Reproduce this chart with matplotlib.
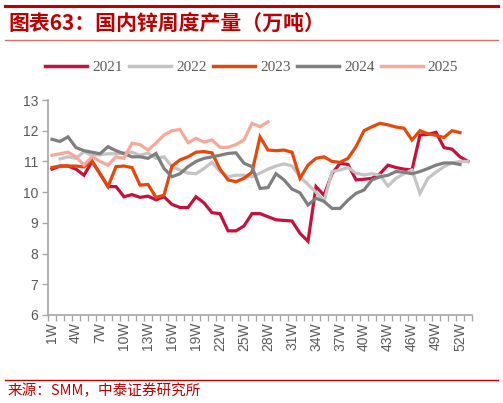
import numpy as np
import matplotlib.pyplot as plt
from matplotlib.lines import Line2D

plt.rcParams['font.family'] = ['Liberation Sans', 'Noto Sans CJK SC', 'DejaVu Sans']

weeks = [f"{i}W" for i in range(1, 54)]
nan = np.nan

# 国内锌周度产量（万吨），按周读取
y2021 = [10.75, 10.85, 10.85, 10.75, 10.55, 11.0, 10.6, 10.18, 10.18, 9.85,
         9.92, 9.83, 9.87, 9.75, 9.85, 9.6, 9.5, 9.5, 9.85, 9.65,
         9.33, 9.3, 8.74, 8.74, 8.9, 9.3, 9.3, 9.2, 9.1, 9.08,
         9.06, 8.66, 8.4, 10.18, 9.9, 10.6, 10.94, 10.9, 10.4, 10.42,
         10.45, 10.6, 10.88, 10.8, 10.75, 10.72, 11.86, 11.88, 11.95, 11.45,
         11.4, 11.15, 11.0]
y2022 = [nan, 11.08, 11.15, 11.1, 11.32, 11.2, 11.22, 11.25, 11.25, 11.28,
         11.3, 11.2, 11.27, 11.1, 11.15, 10.83, 10.72, 10.62, 10.6, 10.77,
         10.97, 10.67, 10.5, 10.55, 10.55, 10.5, 10.62, 10.75, 10.85, 10.92,
         10.85, 10.5, 10.25, 10.0, 9.7, 10.67, 10.72, 10.8, 10.62, 10.56,
         10.6, 10.55, 10.2, 10.45, 10.6, 10.72, 9.96, 10.45, 10.65, 10.83,
         10.95, 11.0, 11.0]
y2023 = [10.8, 10.85, 10.85, 10.85, 10.82, 11.02, 10.6, 10.18, 10.83, 10.85,
         10.8, 10.23, 10.25, 9.83, 9.9, 10.85, 11.05, 11.15, 11.3, 11.32,
         11.28, 10.75, 10.4, 10.34, 10.45, 10.65, 11.8, 11.37, 11.35, 11.37,
         11.3, 10.45, 10.88, 11.1, 11.15, 11.0, 10.97, 11.1, 11.48, 12.0,
         12.13, 12.24, 12.19, 12.12, 12.08, 11.7, 12.0, 11.9, 11.85, 11.78,
         12.0, 11.94, nan]
y2024 = [11.72, 11.65, 11.8, 11.45, 11.35, 11.3, 11.25, 11.48, 11.35, 11.25,
         11.15, 11.15, 11.1, 11.26, 10.77, 10.5, 10.6, 10.83, 11.0, 11.1,
         11.15, 11.2, 11.26, 11.28, 10.94, 10.83, 10.12, 10.15, 10.6, 10.4,
         10.1, 9.98, 9.58, 9.8, 9.7, 9.47, 9.47, 9.74, 9.96, 10.07,
         10.4, 10.5, 10.55, 10.67, 10.65, 10.6, 10.67, 10.77, 10.88, 10.95,
         10.95, 10.9, nan]
y2025 = [11.2, 11.25, 11.3, 11.15, 10.88, 11.15, 11.0, 10.88, 11.15, 11.1,
         11.59, 11.55, 11.37, 11.6, 11.86, 12.0, 12.04, 11.61, 11.75, 11.63,
         11.7, 11.46, 11.46, 11.55, 11.7, 12.24, 12.13, 12.29]

series = [("2021", y2021, "#C8103C"),
          ("2022", y2022, "#C4C4C4"),
          ("2023", y2023, "#E8470A"),
          ("2024", y2024, "#7F7F7F"),
          ("2025", y2025, "#F8A898")]

fig = plt.figure(figsize=(5.03, 4.03), dpi=100)
ax = fig.add_axes([48 / 503, 1 - 315 / 403, 424 / 503, 215 / 403])

x = np.arange(len(weeks))
for name, vals, col in series:
    ax.plot(x[:len(vals)], vals, color=col, linewidth=2.3, label=name,
            solid_joinstyle='miter')

ax.set_xlim(-0.5, len(weeks) - 0.5)
ax.set_ylim(6, 13)
ax.set_yticks(range(6, 14))
ax.set_xticks(x[::3])
ax.set_xticklabels(weeks[::3], rotation=90)
ax.set_xticks(np.arange(-0.5, len(weeks)), minor=True)
ax.tick_params(axis='x', which='major', length=0, pad=5, labelsize=10,
               labelcolor='#595959')
ax.tick_params(axis='x', which='minor', length=4, width=1, color='#A6A6A6',
               direction='out')
ax.tick_params(axis='y', length=4, width=1, color='#A6A6A6', labelsize=10,
               labelcolor='#595959', pad=3)
for s in ['top', 'right']:
    ax.spines[s].set_visible(False)
for s in ['left', 'bottom']:
    ax.spines[s].set_color('#A6A6A6')
    ax.spines[s].set_linewidth(1.2)

handles = [Line2D([], [], color=c, linewidth=2.5) for _, _, c in series]
fig.legend(handles, [n for n, _, _ in series], loc='center',
           bbox_to_anchor=(0.5, 1 - 67 / 403), ncol=5, frameon=False,
           handlelength=2.8, handletextpad=0.3, columnspacing=0.4,
           prop={'family': 'Liberation Serif', 'size': 11},
           labelcolor='#595959')

# 标题与来源
fig.add_artist(Line2D([5 / 503, 498 / 503], [1 - 6 / 403, 1 - 6 / 403],
                      color='#C00000', linewidth=2.2))
fig.add_artist(Line2D([5 / 503, 498 / 503], [1 - 40 / 403, 1 - 40 / 403],
                      color='#D87070', linewidth=1.0))
fig.add_artist(Line2D([5 / 503, 498 / 503], [1 - 380 / 403, 1 - 380 / 403],
                      color='#C00000', linewidth=1.0))
fig.text(8 / 503, 1 - 24 / 403, "图表63：国内锌周度产量（万吨）",
         color='#C00000', fontsize=15, fontweight='bold', va='center',
         ha='left', family=['Noto Sans CJK SC', 'DejaVu Sans'])
fig.text(8 / 503, 1 - 391 / 403, "来源：SMM，中泰证券研究所",
         color='#C00000', fontsize=10.5, va='center', ha='left',
         family=['Noto Sans CJK SC', 'DejaVu Sans'])

fig.savefig('out.png', dpi=100, facecolor='white')
